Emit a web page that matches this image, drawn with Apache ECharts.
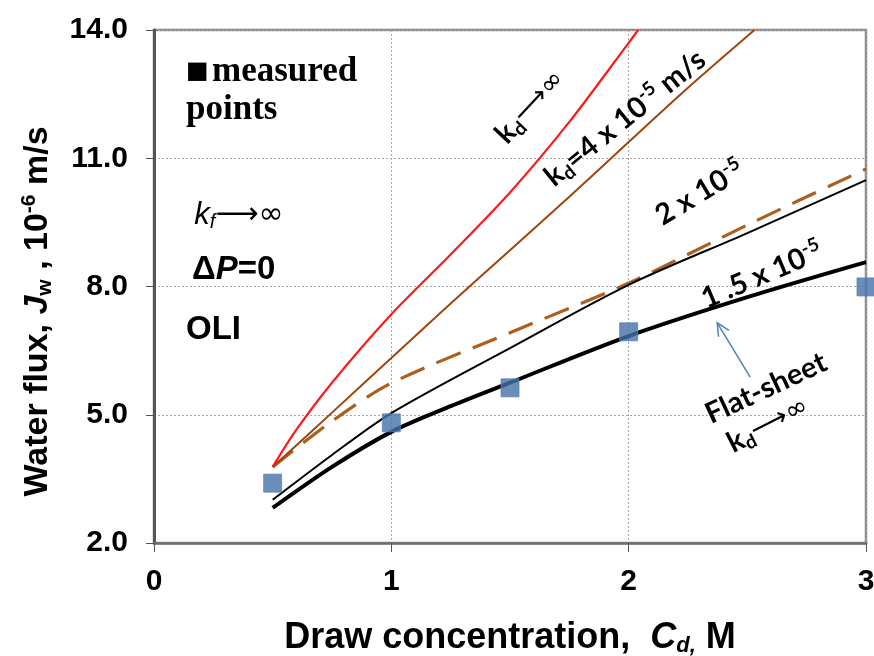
<!DOCTYPE html>
<html>
<head>
<meta charset="utf-8">
<script src="https://cdn.jsdelivr.net/npm/echarts@6/dist/echarts.min.js"></script>
<style>
  html, body { margin: 0; padding: 0; background: #fff; }
  #chart { width: 874px; height: 656px; }
</style>
</head>
<body>
<div id="chart"></div>
<script>
// Draw concentration (M) and water flux (10^-6 m/s) for each model curve
const measuredX = [0.5, 1.0, 1.5, 2.0, 3.0];
const measuredY = [3.40, 4.81, 5.63, 6.94, 7.99];

const kdInfX = [0.5, 0.6, 0.75, 1.0, 1.25, 1.5, 1.75, 2.0, 2.04];
const kdInfY = [3.78, 4.65, 5.75, 7.35, 8.75, 10.2, 11.85, 13.7, 14.0];

const kd4X = [0.5, 0.75, 1.0, 1.25, 1.5, 1.75, 2.0, 2.25, 2.53];
const kd4Y = [3.78, 5.05, 6.33, 7.6, 8.85, 10.1, 11.38, 12.65, 14.0];

const flatX = [0.5, 0.75, 1.0, 1.5, 2.0, 2.5, 3.0];
const flatY = [3.78, 4.85, 5.74, 6.92, 8.08, 9.44, 10.75];

const kd2X = [0.5, 0.75, 1.0, 1.5, 2.0, 2.5, 3.0];
const kd2Y = [3.01, 4.06, 5.04, 6.56, 8.04, 9.25, 10.49];

const kd15X = [0.5, 0.75, 1.0, 1.25, 1.5, 2.0, 2.5, 3.0];
const kd15Y = [2.82, 3.78, 4.6, 5.2, 5.75, 6.84, 7.75, 8.57];

const xTicks = [0, 1, 2, 3];
const yTicks = [2.0, 5.0, 8.0, 11.0, 14.0];

const pairs = (xs, ys) => xs.map((x, i) => [x, ys[i]]);

const chart = echarts.init(document.getElementById('chart'));

const SANS = '"Liberation Sans", Arial, sans-serif';
const CAL = 'Lato, "Open Sans", sans-serif';

chart.setOption({
  animation: false,
  grid: {
    left: 154, right: 8, top: 30, bottom: 113,
    outerBoundsMode: 'none', containLabel: false,
    show: true, borderColor: '#8c8c8c', borderWidth: 2.5, backgroundColor: '#fff'
  },
  xAxis: {
    type: 'value',
    min: xTicks[0], max: xTicks[xTicks.length - 1], interval: 1,
    axisLine: { show: true, onZero: false, lineStyle: { color: '#6e6e6e', width: 2.5 } },
    axisTick: { show: true, length: 9, lineStyle: { color: '#555', width: 1 } },
    axisLabel: {
      margin: 24, fontSize: 30, fontWeight: 'bold', color: '#000', fontFamily: SANS,
      formatter: v => String(v)
    },
    splitLine: { show: true, lineStyle: { color: '#a6a6a6', width: 1, type: [2, 2] } },
    name: '{b|Draw concentration,  }{i|C}{sub|d,}{b| M}',
    nameLocation: 'middle',
    nameGap: 76,
    nameTextStyle: {
      rich: {
        b: { fontSize: 36, fontWeight: 'bold', fontFamily: SANS, color: '#000' },
        i: { fontSize: 36, fontWeight: 'bold', fontStyle: 'italic', fontFamily: SANS, color: '#000' },
        sub: { fontSize: 22, fontWeight: 'bold', fontStyle: 'italic', fontFamily: SANS, color: '#000', padding: [16, 0, 0, 0] }
      }
    }
  },
  yAxis: {
    type: 'value',
    min: yTicks[0], max: yTicks[yTicks.length - 1], interval: 3,
    axisLine: { show: true, lineStyle: { color: '#555', width: 3 } },
    axisTick: { show: true, length: 8, lineStyle: { color: '#555', width: 1 } },
    axisLabel: {
      margin: 26, fontSize: 30, fontWeight: 'bold', color: '#000', fontFamily: SANS,
      formatter: v => v.toFixed(1)
    },
    splitLine: { show: true, lineStyle: { color: '#a6a6a6', width: 1, type: [2, 2] } },
    name: '{b|Water flux, }{i|J}{sub|w}{b| , 10}{sup|-6}{b| m/s}',
    nameLocation: 'middle',
    nameRotate: 90,
    nameGap: 98,
    nameTextStyle: {
      padding: [0, 50, 0, 0],
      rich: {
        b: { fontSize: 34, fontWeight: 'bold', fontFamily: SANS, color: '#000' },
        i: { fontSize: 34, fontWeight: 'bold', fontStyle: 'italic', fontFamily: SANS, color: '#000' },
        sub: { fontSize: 21, fontWeight: 'bold', fontFamily: SANS, color: '#000', padding: [16, 0, 0, 0] },
        sup: { fontSize: 21, fontWeight: 'bold', fontFamily: SANS, color: '#000', padding: [0, 0, 16, 0] }
      }
    }
  },
  series: [
    {
      name: 'kd inf', type: 'line', data: pairs(kdInfX, kdInfY), smooth: 0.3,
      showSymbol: false, lineStyle: { color: '#ff1a1a', width: 2.2 }, z: 5
    },
    {
      name: 'kd 4e-5', type: 'line', data: pairs(kd4X, kd4Y), smooth: 0.3,
      showSymbol: false, lineStyle: { color: '#a0460c', width: 2 }, z: 4
    },
    {
      name: 'flat sheet', type: 'line', data: pairs(flatX, flatY), smooth: 0.3,
      showSymbol: false, lineStyle: { color: '#ad5f1f', width: 3.2, type: [26, 13] }, z: 3
    },
    {
      name: 'kd 2e-5', type: 'line', data: pairs(kd2X, kd2Y), smooth: 0.3,
      showSymbol: false, lineStyle: { color: '#000', width: 2 }, z: 3
    },
    {
      name: 'kd 1.5e-5', type: 'line', data: pairs(kd15X, kd15Y), smooth: 0.3,
      showSymbol: false, lineStyle: { color: '#000', width: 4 }, z: 3
    },
    {
      name: 'measured', type: 'scatter', data: pairs(measuredX, measuredY),
      symbol: 'rect', symbolSize: 18,
      itemStyle: { color: '#4571a8', borderColor: '#5d86b8', borderWidth: 1 }, z: 6
    }
  ]
});

// Text annotations anchored to data coordinates
const P = (x, y) => chart.convertToPixel({ gridIndex: 0 }, [x, y]);
const deg = d => d * Math.PI / 180;

function label(x, y, text, rich, angle, align) {
  const p = P(x, y);
  return {
    type: 'text', x: p[0], y: p[1], rotation: deg(angle || 0), z: 20,
    style: {
      x: 0, y: 0, text: text, rich: rich,
      align: align || 'center', verticalAlign: 'middle'
    }
  };
}

const calRich = {
  t: { fontSize: 29, fontWeight: 'bold', fontFamily: CAL, color: '#000' },
  s: { fontSize: 19, fontWeight: 'bold', fontFamily: CAL, color: '#000', padding: [15, 0, 0, 0] },
  u: { fontSize: 19, fontWeight: 'bold', fontFamily: CAL, color: '#000', padding: [0, 0, 15, 0] },
  a: { fontSize: 27, fontWeight: 'normal', fontFamily: '"DejaVu Sans", sans-serif', color: '#000' }
};
const serifRich = {
  m: { fontSize: 35, fontWeight: 'bold', fontFamily: '"Liberation Serif", "Times New Roman", serif', color: '#000' },
  q: { fontSize: 24, fontFamily: '"DejaVu Sans", sans-serif', color: '#000' }
};
const arialRich = {
  b: { fontSize: 33, fontWeight: 'bold', fontFamily: SANS, color: '#000' },
  bi: { fontSize: 33, fontWeight: 'bold', fontStyle: 'italic', fontFamily: SANS, color: '#000' },
  ki: { fontSize: 31, fontStyle: 'italic', fontFamily: SANS, color: '#000' },
  fi: { fontSize: 20, fontStyle: 'italic', fontFamily: SANS, color: '#000', padding: [14, 0, 0, 0] },
  n: { fontSize: 30, fontFamily: '"DejaVu Sans", sans-serif', color: '#000' }
};

const arrowFrom = P(2.512, 5.88);
const arrowTo = P(2.373, 7.15);
const ang = Math.atan2(arrowTo[1] - arrowFrom[1], arrowTo[0] - arrowFrom[0]);
const head = (s) => [arrowTo[0] - 14 * Math.cos(ang + s), arrowTo[1] - 14 * Math.sin(ang + s)];

chart.setOption({
  graphic: [
    label(0.135, 13.02, '{q|■} {m|measured}', serifRich, 0, 'left'),
    label(0.135, 12.13, '{m|points}', serifRich, 0, 'left'),
    label(0.17, 9.67, '{ki|k}{fi|f}{n|⟶∞}', arialRich, 0, 'left'),
    label(0.16, 8.39, '{b|Δ}{bi|P}{b|=0}', arialRich, 0, 'left'),
    label(0.135, 6.98, '{b|OLI}', arialRich, 0, 'left'),
    label(1.585, 12.2, '{t|k}{s|d}{a|⟶∞}', calRich, 47),
    label(1.985, 11.94, '{t|k}{s|d}{t|=4 x 10}{u|-5}{t| m/s}', calRich, 39),
    label(2.30, 10.19, '{t|2 x 10}{u|-5}', calRich, 31),
    label(2.562, 8.27, '{t|1 .5 x 10}{u|-5}', calRich, 23),
    label(2.579, 5.62, '{t|Flat-sheet}', calRich, 25),
    label(2.587, 4.76, '{t|k}{s|d}{a|⟶∞}', calRich, 27),
    {
      type: 'polyline', z: 20,
      shape: { points: [arrowFrom, arrowTo] },
      style: { stroke: '#4f81bd', lineWidth: 1.5, fill: null }
    },
    {
      type: 'polyline', z: 20,
      shape: { points: [head(0.45), arrowTo, head(-0.45)] },
      style: { stroke: '#4f81bd', lineWidth: 1.5, fill: null }
    }
  ]
});
</script>
</body>
</html>
